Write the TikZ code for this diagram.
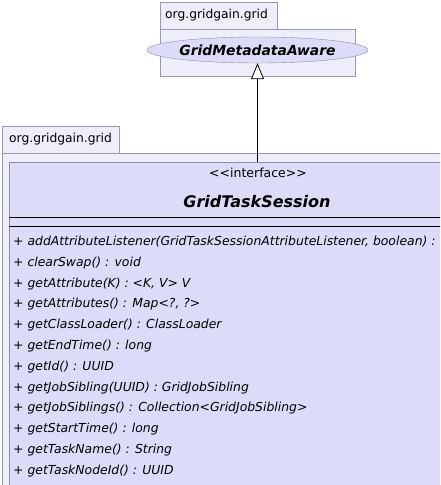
\documentclass[tikz,border=0pt]{standalone}
\usepackage{fontspec}
\setmainfont{DejaVu Sans}
\usetikzlibrary{arrows.meta,shapes.geometric}
\definecolor{pkgfill}{HTML}{EEEEFA}
\definecolor{pkgline}{HTML}{9A9AAE}
\definecolor{clsfill}{HTML}{DCDCF8}
\definecolor{clsline}{HTML}{8C8CA8}
\newcommand{\mth}[1]{+ \textit{#1}}

\begin{document}
\begin{tikzpicture}[x=1pt,y=-1pt,
    pkg/.style={draw=pkgline,fill=pkgfill,line width=0.8pt},
    pkgname/.style={font=\fontsize{12.3}{15}\selectfont,anchor=west,inner sep=0pt},
    method/.style={font=\fontsize{12.4}{15}\selectfont,anchor=west,inner sep=0pt},
    realize/.style={-{Triangle[open,length=16pt,width=13pt,fill=white]},line width=0.8pt}]
       \useasboundingbox (0,0) rectangle (440,485);
       \clip (0,0) rectangle (440,485);
       % upper package
       \draw[pkg] (160,2) rectangle (277,29);
       \draw[pkg] (160,29) rectangle (355,76);
       \node[pkgname] (toppkg) at (165,15.5) {org.gridgain.grid};
       \node[ellipse,draw=clsline,fill=clsfill,minimum width=181pt,minimum height=26pt,
             inner sep=0pt,font=\fontsize{13.9}{16}\selectfont\bfseries\itshape] (aware) at (257.5,50) {GridMetadataAware};
       % lower package
       \draw[pkg] (2,126) rectangle (119,153);
       \draw[pkg] (2,153) rectangle (460,500);
       \node[pkgname] (lowpkg) at (9,139.5) {org.gridgain.grid};
       \draw[draw=clsline,fill=clsfill,line width=0.8pt] (9,162) rectangle (455,500);
       \coordinate (sessiontop) at (257.5,162);
       \node[font=\fontsize{12.5}{14}\selectfont] (stereo) at (258,173) {{<}{<}interface{>}{>}};
       \node[font=\fontsize{16}{19}\selectfont\bfseries\itshape] (session) at (257,202) {GridTaskSession};
       \draw[line width=0.8pt] (9,217) -- (455,217);
       \draw[line width=0.8pt] (9,226) -- (455,226);
       \node[method] (m1) at (13,242) {\mth{addAttributeListener(GridTaskSessionAttributeListener, boolean) :}};
       \node[method] (m2) at (13,262.8) {\mth{clearSwap() : void}};
       \node[method] (m3) at (13,283.6) {\mth{getAttribute(K) : <K, V> V}};
       \node[method] (m4) at (13,304.5) {\mth{getAttributes() : Map<?, ?>}};
       \node[method] (m5) at (13,325.3) {\mth{getClassLoader() : ClassLoader}};
       \node[method] (m6) at (13,346.1) {\mth{getEndTime() : long}};
       \node[method] (m7) at (13,366.9) {\mth{getId() : UUID}};
       \node[method] (m8) at (13,387.7) {\mth{getJobSibling(UUID) : GridJobSibling}};
       \node[method] (m9) at (13,408.5) {\mth{getJobSiblings() : Collection<GridJobSibling>}};
       \node[method] (m10) at (13,429.4) {\mth{getStartTime() : long}};
       \node[method] (m11) at (13,450.2) {\mth{getTaskName() : String}};
       \node[method] (m12) at (13,471) {\mth{getTaskNodeId() : UUID}};
       % realization
       \draw[realize] (sessiontop) -- (aware.south);
      \end{tikzpicture}
\end{document}
